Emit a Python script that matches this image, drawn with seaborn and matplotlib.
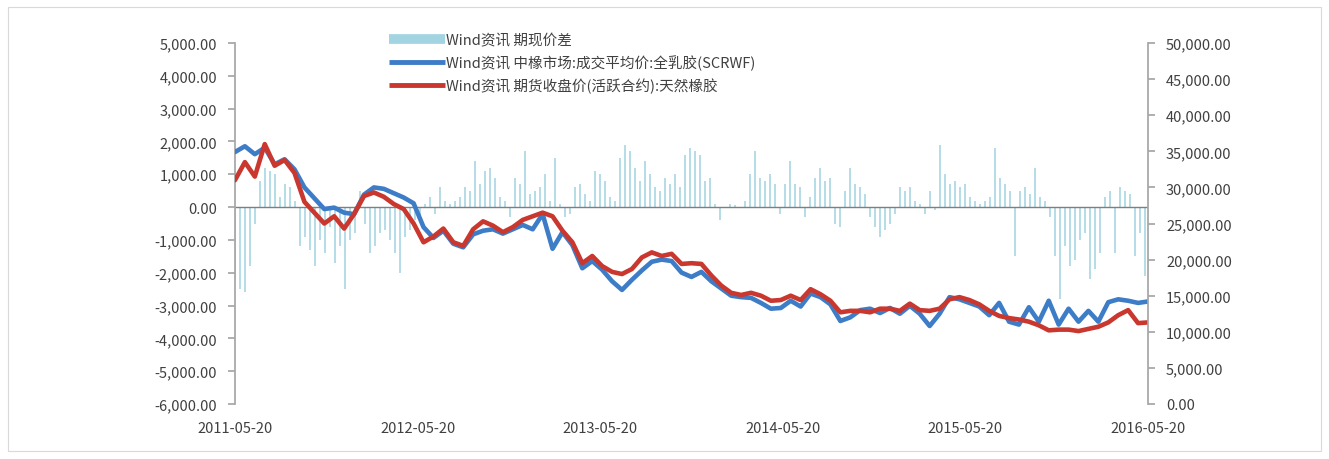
import matplotlib
matplotlib.use('Agg')
import matplotlib.pyplot as plt
import matplotlib.dates as mdates
from matplotlib.lines import Line2D
from matplotlib.patches import Rectangle
from matplotlib.ticker import FuncFormatter, MultipleLocator
import pandas as pd
import seaborn as sns

# spot average price (SCRWF), every 20 days
spot_price = [
    34900, 35700, 34600, 35500, 33200, 33900, 32500, 30000, 28500, 27000,
    27200, 26500, 26300, 29000, 30000, 29800, 29200, 28600, 27800, 24500,
    23000, 24000, 22200, 21700, 23500, 24000, 24200, 23600, 24200, 24800,
    24200, 26300, 21500, 23800, 22000, 18800, 19800, 18600, 17000, 15800,
    17200, 18500, 19700, 20000, 19800, 18200, 17600, 18300, 17000, 16000,
    15000, 14800, 14700, 14000, 13200, 13300, 14300, 13500, 15300, 14800,
    13800, 11500, 12000, 13000, 13200, 12600, 13300, 12500, 13600, 12500,
    10800, 12500, 14800, 14500, 14000, 13500, 12300, 14000, 11400, 11000,
    13400, 11400, 14300, 11000, 13200, 11400, 12900, 11400, 14100, 14500,
    14300, 14000, 14200,
]

# futures close (active contract), same dates
futures_price = [
    31000, 33500, 31500, 36000, 33000, 33800, 32000, 28000, 26500, 25000,
    26000, 24300, 26300, 28800, 29300, 28700, 27700, 27000, 25000, 22400,
    23200, 24300, 22400, 21900, 24200, 25300, 24700, 23800, 24500, 25500,
    26000, 26500, 26000, 24000, 22400, 19500, 20500, 19100, 18300, 18000,
    18700, 20300, 21000, 20500, 20800, 19400, 19500, 19400, 17800, 16400,
    15400, 15100, 15400, 15000, 14300, 14400, 15000, 14400, 15900, 15200,
    14300, 12700, 12900, 12900, 12700, 13200, 13200, 12900, 13900, 13000,
    12900, 13200, 14500, 14800, 14400, 13800, 12900, 12200, 11900, 11700,
    11400, 10900, 10200, 10300, 10300, 10100, 10400, 10700, 11300, 12300,
    13000, 11200, 11300,
]

# basis (futures - spot), roughly every 10 days
basis = [
    -2200, -2500, -2600, -1800, -500, 800, 1200, 1100, 1000, 300,
    700, 600, 200, -1200, -900, -1300, -1800, -1000, -1400, -600,
    -1700, -1200, -2500, -1000, -800, 500, -500, -1400, -1200, -800,
    -700, -1000, -1400, -2000, -900, -700, -400, -300, 100, 300,
    -200, 600, 200, 100, 200, 300, 600, 500, 1400, 700,
    1100, 1200, 900, 300, 200, -300, 900, 700, 1700, 400,
    500, 600, 1000, 200, 1500, 100, -300, -200, 600, 700,
    400, 200, 1100, 1000, 800, 300, 200, 1500, 1900, 1700,
    1200, 800, 1400, 1000, 600, 500, 900, 700, 1000, 600,
    1600, 1800, 1700, 1600, 800, 900, 100, -400, 0, 100,
    50, 0, 200, 1000, 1700, 900, 800, 1000, 700, -200,
    700, 1400, 700, 600, -300, 300, 900, 1200, 800, 900,
    -500, -600, 500, 1200, 700, 600, 400, -300, -600, -900,
    -700, -500, -200, 600, 500, 600, 200, 100, -200, 500,
    -100, 1900, 1000, 700, 800, 600, 700, 300, 200, 100,
    200, 300, 1800, 900, 700, 500, -1500, 500, 600, 400,
    1200, 300, 200, -300, -1500, -2800, -1200, -1800, -1600, -1000,
    -800, -2200, -1900, -1400, 300, 500, -1400, 600, 500, 400,
    -1500, -800, -2100,
]

tick_dates = ['2011-05-20', '2012-05-20', '2013-05-20',
              '2014-05-20', '2015-05-20', '2016-05-20']

labels = ['Wind资讯 期现价差',
          'Wind资讯 中橡市场:成交平均价:全乳胶(SCRWF)',
          'Wind资讯 期货收盘价(活跃合约):天然橡胶']

price_df = pd.DataFrame({
    'date': pd.date_range('2011-05-20', '2016-05-20', periods=len(spot_price)),
    'spot': spot_price,
    'futures': futures_price,
})
basis_dates = pd.date_range('2011-05-20', '2016-05-14', periods=len(basis))

sns.set_theme(style='white')
plt.rcParams['font.family'] = ['Noto Sans CJK SC', 'DejaVu Sans']

bar_color = '#a3d4e1'
blue = '#3d7cc6'
red = '#c9372f'
axis_gray = '#a6a6a6'
text_gray = '#404040'

fig = plt.figure(figsize=(13.29, 4.6), dpi=100)
ax = fig.add_axes([0.1768, 0.1196, 0.687, 0.7847])
ax2 = ax.twinx()

# basis bars on the left axis
ax.bar(basis_dates, basis, width=4.5, color=bar_color, alpha=0.8, linewidth=0)
ax.axhline(0, color='#7f7f7f', lw=1)

# prices on the right axis
sns.lineplot(data=price_df, x='date', y='spot', ax=ax2, color=blue, lw=3.3)
sns.lineplot(data=price_df, x='date', y='futures', ax=ax2, color=red, lw=3.3)

ax.set_ylim(-6000, 5000)
ax2.set_ylim(0, 50000)
ax.yaxis.set_major_locator(MultipleLocator(1000))
ax2.yaxis.set_major_locator(MultipleLocator(5000))
fmt = FuncFormatter(lambda v, p: f'{v:,.2f}')
ax.yaxis.set_major_formatter(fmt)
ax2.yaxis.set_major_formatter(fmt)

ax.set_xlim(pd.Timestamp('2011-05-20'), pd.Timestamp('2016-05-20'))
ax.set_xticks(pd.to_datetime(tick_dates))
ax.xaxis.set_major_formatter(mdates.DateFormatter('%Y-%m-%d'))

for a in (ax, ax2):
    a.set_xlabel('')
    a.set_ylabel('')
    a.spines['top'].set_visible(False)
    a.spines['bottom'].set_visible(False)
    a.grid(False)
ax.spines['right'].set_visible(False)
ax2.spines['left'].set_visible(False)
ax.spines['left'].set_color(axis_gray)
ax2.spines['right'].set_color(axis_gray)

ax.tick_params(axis='y', direction='out', length=5, color=axis_gray,
               labelsize=10.5, labelcolor=text_gray, pad=8, left=True)
ax2.tick_params(axis='y', direction='out', length=5, color=axis_gray,
                labelsize=10.5, labelcolor=text_gray, pad=8, right=True)
ax.tick_params(axis='x', length=0, labelsize=10.5, labelcolor=text_gray, pad=12)

handles = [Line2D([], [], color=bar_color, lw=7, solid_capstyle='butt'),
           Line2D([], [], color=blue, lw=3.5, solid_capstyle='butt'),
           Line2D([], [], color=red, lw=3.5, solid_capstyle='butt')]
fig.legend(handles, labels, loc='upper left', bbox_to_anchor=(0.283, 0.955),
           frameon=False, fontsize=10.5, handlelength=3.8, handletextpad=0.1,
           labelspacing=0.5, labelcolor=text_gray)

# light chart-area border
fig.add_artist(Rectangle((8 / 1329, 8 / 460), 1313 / 1329, 444 / 460,
                         transform=fig.transFigure, fill=False,
                         edgecolor='#d9d9d9', lw=0.8))

fig.savefig('out.png', dpi=100)
